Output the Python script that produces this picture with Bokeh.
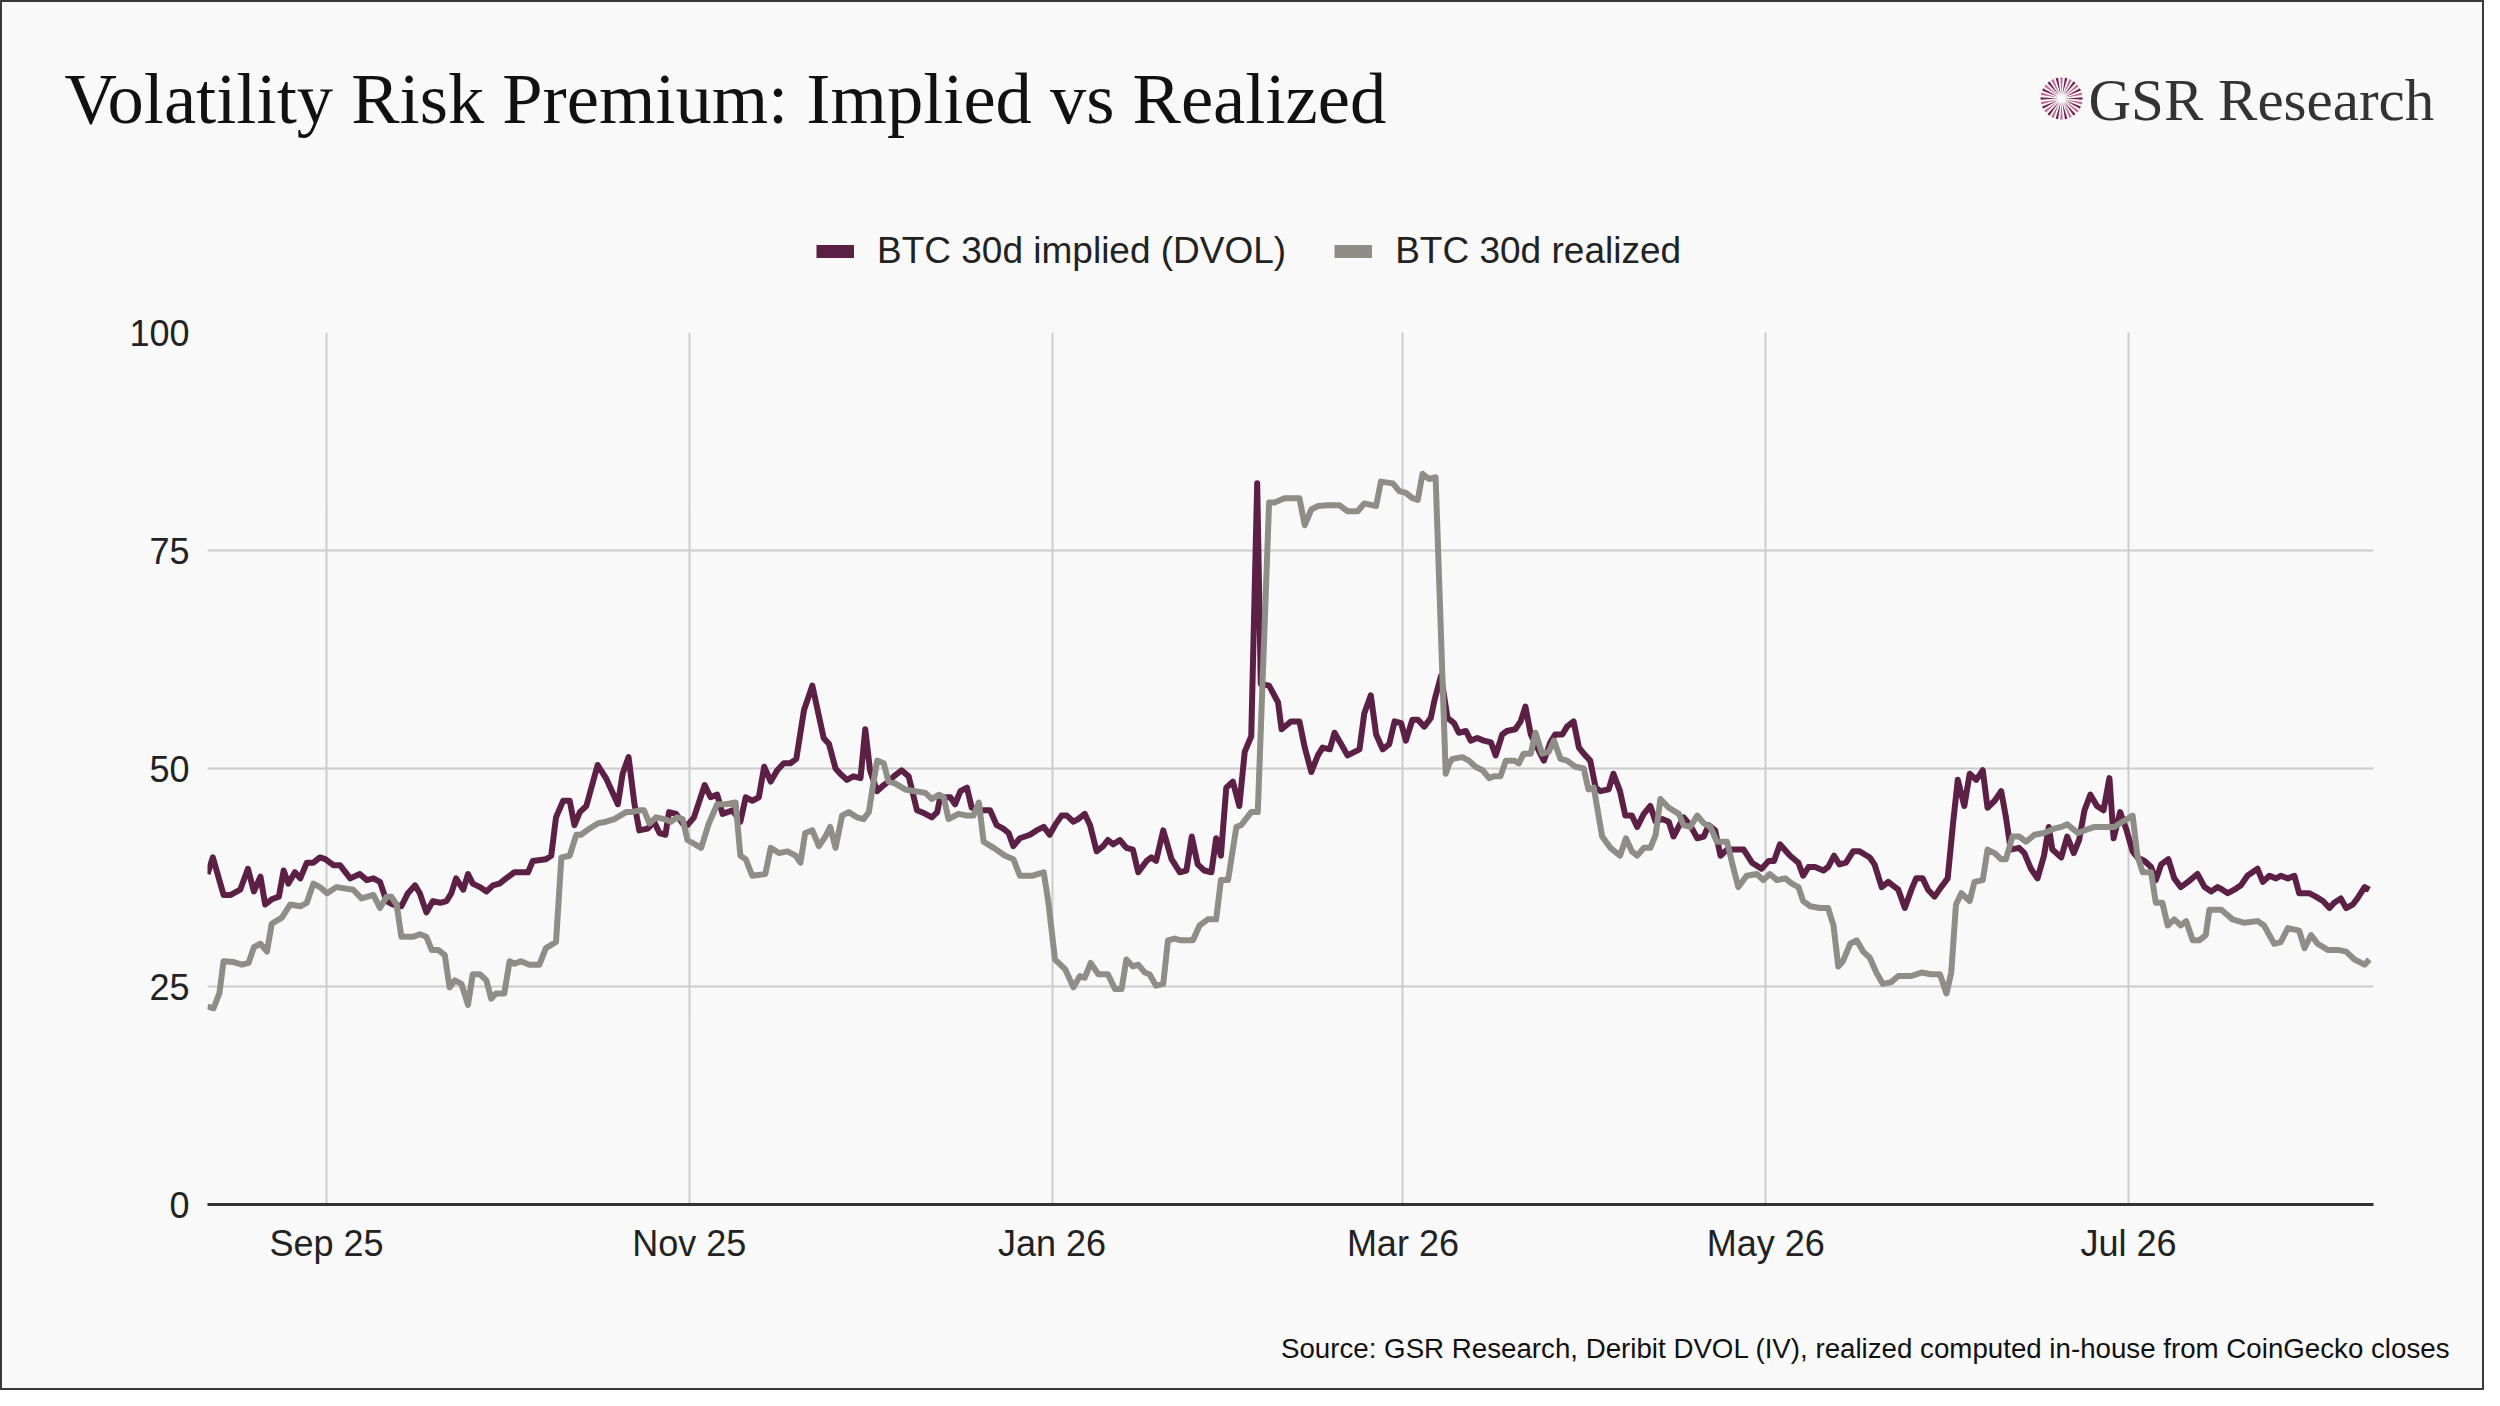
from datetime import datetime, timedelta
import numpy as np
from bokeh.plotting import figure
from bokeh.layouts import column
from bokeh.models import (ColumnDataSource, Range1d, Legend, LegendItem, MonthsTicker,
                          DatetimeTickFormatter, FixedTicker)
from bokeh.core.properties import value
from bokeh.embed import file_html
from bokeh.resources import INLINE

start = datetime(2025, 8, 12)

impl_days = [
    0.0, 0.9, 2.7, 3.9, 5.5, 6.8, 7.8, 8.9, 9.7, 10.8, 12.0, 12.8, 13.6, 14.7, 15.6, 16.7, 17.8, 18.9, 19.8, 21.2,
    22.3, 24.0, 25.6, 26.8, 27.9, 29.0, 30.1, 31.2, 32.6, 33.7, 34.9, 35.7, 36.8, 37.9, 39.1, 40.2, 41.0, 41.8, 43.0, 43.8,
    44.6, 45.8, 46.9, 48.0, 49.1, 50.2, 51.6, 53.9, 54.7, 56.9, 57.8, 58.6, 59.8, 60.9, 61.7, 62.6, 63.7, 65.6, 67.0, 69.0,
    69.8, 70.8, 71.8, 72.6, 74.0, 75.1, 76.0, 77.0, 77.6, 78.8, 79.9, 80.7, 81.8, 83.6, 84.6, 85.7, 86.6, 88.3, 89.6, 90.5,
    91.6, 92.7, 93.6, 94.7, 95.8, 96.9, 98.0, 99.0, 100.3, 101.7, 103.6, 104.5, 105.6, 106.4, 107.5, 108.6, 109.8, 110.6, 111.4, 112.6,
    113.7, 114.5, 115.4, 116.7, 117.9, 119.3, 120.7, 121.8, 122.7, 123.2, 124.9, 125.7, 126.6, 127.7, 128.5, 129.9, 131.6, 132.7, 133.8, 134.7,
    135.5, 136.6, 138.3, 139.4, 140.6, 141.6, 142.5, 143.6, 144.5, 145.6, 146.4, 147.5, 148.4, 149.5, 150.6, 151.4, 152.3, 153.4, 154.5, 155.6,
    156.5, 157.9, 158.7, 159.5, 160.7, 162.1, 163.5, 164.6, 165.5, 166.5, 167.6, 168.8, 169.6, 170.4, 171.3, 172.4, 173.5, 174.4, 175.5, 176.5,
    177.1, 178.5, 180.0, 180.6, 182.2, 183.6, 184.5, 185.6, 186.7, 187.5, 188.7, 189.5, 190.6, 191.7, 193.7, 194.5, 195.6, 196.5, 197.6, 198.7,
    199.6, 200.7, 201.5, 202.6, 203.5, 204.6, 205.7, 206.3, 207.4, 208.5, 209.6, 210.4, 211.6, 212.4, 213.5, 214.6, 215.8, 216.6, 217.7, 218.5,
    219.9, 220.8, 221.6, 222.5, 223.6, 224.7, 225.8, 226.6, 227.8, 228.6, 229.7, 230.6, 231.4, 232.5, 233.4, 234.2, 235.6, 236.4, 237.5, 238.4,
    239.5, 240.4, 241.5, 242.6, 243.5, 244.6, 245.7, 246.5, 248.2, 249.3, 250.5, 251.6, 252.4, 253.5, 254.4, 255.5, 256.9, 258.3, 259.7, 261.3,
    262.5, 263.4, 264.4, 266.1, 267.5, 268.3, 269.2, 270.3, 271.7, 272.5, 273.5, 274.4, 275.5, 276.7, 277.8, 279.5, 280.3, 281.5, 282.6, 284.3,
    285.4, 286.5, 287.3, 288.4, 289.3, 290.4, 291.5, 292.6, 293.5, 294.3, 295.4, 296.3, 297.4, 298.5, 299.3, 300.5, 301.6, 302.4, 303.2, 304.6,
    305.5, 306.6, 307.7, 308.8, 309.6, 310.2, 311.7, 312.7, 313.8, 314.7, 315.6, 316.6, 317.7, 318.8, 319.8, 320.5, 321.6, 322.6, 323.7, 324.5,
    325.7, 326.8, 327.6, 328.5, 329.7, 330.7, 331.8, 333.0, 334.6, 335.8, 336.9, 338.0, 338.8, 339.7, 340.8, 341.9, 343.0, 344.7, 345.6, 346.7,
    347.8, 348.6, 349.8, 350.9, 351.7, 353.4, 354.5, 355.7, 356.8, 357.6, 358.7, 359.6, 360.7, 361.5, 362.7, 363.5,
]
impl_vals = [
    37.9, 39.8, 35.5, 35.5, 36.1, 38.5, 35.9, 37.6, 34.4, 35.0, 35.3, 38.3, 36.8, 38.1, 37.4, 39.2, 39.2, 39.8, 39.6, 38.9,
    38.9, 37.4, 37.9, 37.2, 37.4, 37.0, 34.8, 34.4, 34.2, 35.7, 36.6, 35.7, 33.5, 34.8, 34.6, 34.8, 35.7, 37.4, 36.1, 37.9,
    36.8, 36.4, 35.9, 36.6, 36.8, 37.4, 38.1, 38.1, 39.4, 39.6, 40.0, 44.4, 46.3, 46.3, 43.5, 45.0, 45.7, 50.4, 48.9, 45.9,
    49.4, 51.3, 45.9, 42.9, 43.1, 43.9, 42.6, 42.4, 45.0, 44.8, 43.7, 43.5, 44.4, 48.1, 46.7, 47.0, 44.8, 45.2, 43.9, 46.7,
    46.3, 46.7, 50.2, 48.5, 49.8, 50.6, 50.6, 51.1, 56.7, 59.5, 53.5, 52.8, 50.0, 49.4, 48.7, 49.1, 48.9, 54.5, 49.8, 47.4,
    48.1, 48.5, 49.1, 49.8, 49.1, 45.2, 44.8, 44.4, 45.0, 46.7, 46.7, 45.9, 47.4, 47.8, 45.5, 45.2, 45.2, 43.5, 43.1, 42.6,
    41.1, 42.0, 42.4, 42.9, 43.3, 42.4, 43.5, 44.6, 44.6, 43.9, 44.2, 44.8, 43.5, 40.5, 41.1, 41.8, 41.3, 41.8, 40.9, 40.7,
    38.1, 39.4, 39.8, 39.4, 42.9, 39.6, 38.1, 38.3, 42.2, 39.0, 38.3, 38.1, 42.0, 40.0, 47.8, 48.5, 45.7, 51.9, 53.7, 82.7,
    59.7, 59.5, 57.6, 54.5, 55.4, 55.4, 52.4, 49.6, 51.5, 52.4, 52.2, 54.1, 52.8, 51.5, 52.2, 56.3, 58.4, 53.9, 52.2, 52.8,
    55.4, 55.2, 53.2, 55.6, 55.6, 54.8, 55.8, 57.8, 60.6, 55.8, 55.2, 54.1, 54.3, 53.2, 53.5, 53.2, 53.0, 51.5, 53.9, 54.3,
    54.5, 55.4, 57.1, 53.9, 52.4, 50.9, 53.0, 53.9, 53.9, 54.8, 55.4, 52.4, 51.7, 50.9, 47.8, 47.4, 47.6, 49.4, 47.4, 44.6,
    44.6, 43.3, 44.8, 45.7, 43.9, 44.2, 43.9, 42.2, 44.4, 43.5, 42.0, 42.2, 43.5, 42.9, 40.0, 40.7, 40.7, 40.7, 39.2, 38.5,
    39.4, 39.4, 41.3, 40.0, 39.2, 37.7, 38.7, 38.7, 38.3, 38.7, 40.0, 39.0, 39.2, 40.5, 40.5, 39.8, 39.0, 36.4, 37.0, 36.1,
    34.0, 36.1, 37.4, 37.4, 36.1, 35.3, 36.4, 37.4, 43.7, 48.7, 45.7, 49.4, 48.7, 49.8, 45.5, 46.3, 47.4, 44.4, 40.7, 40.9,
    40.3, 38.5, 37.4, 40.0, 43.3, 40.7, 39.8, 42.2, 40.3, 41.8, 45.2, 47.0, 45.7, 45.2, 48.9, 42.0, 45.0, 43.1, 40.5, 39.8,
    39.4, 38.7, 37.2, 39.0, 39.6, 37.4, 36.4, 37.0, 37.9, 36.4, 35.9, 36.4, 36.1, 35.7, 36.1, 36.6, 37.7, 38.5, 37.0, 37.7,
    37.4, 37.7, 37.4, 37.7, 35.7, 35.7, 35.3, 34.8, 34.0, 34.6, 35.1, 34.0, 34.4, 35.1, 36.4, 36.1,
]

real_days = [
    0.0, 1.0, 2.0, 2.7, 4.4, 5.8, 6.9, 7.8, 8.9, 10.0, 10.8, 12.5, 13.9, 15.6, 16.7, 17.8, 18.9, 20.1, 21.7, 24.5,
    25.9, 27.9, 29.0, 30.1, 30.9, 31.8, 32.6, 34.6, 35.7, 36.8, 37.7, 38.8, 39.9, 40.7, 41.6, 42.7, 43.8, 44.6, 45.8, 46.9,
    47.7, 48.5, 49.9, 50.8, 51.6, 52.7, 54.1, 55.8, 56.9, 58.6, 59.5, 60.9, 62.0, 62.8, 64.2, 65.6, 67.0, 68.4, 70.4, 71.2,
    72.6, 73.4, 74.3, 75.4, 76.8, 77.9, 79.0, 79.9, 80.7, 83.0, 84.3, 85.7, 87.1, 88.8, 89.6, 90.5, 91.6, 93.8, 94.7, 96.1,
    97.5, 98.9, 99.7, 100.5, 101.7, 102.8, 103.9, 104.7, 105.6, 106.7, 107.8, 109.2, 110.3, 111.2, 112.0, 112.6, 113.7, 114.5, 115.6, 117.3,
    119.0, 120.7, 121.8, 123.0, 123.8, 124.6, 126.3, 127.7, 128.8, 129.7, 130.5, 132.2, 134.1, 135.5, 136.6, 138.6, 140.6, 141.4, 142.5, 144.2,
    145.6, 146.7, 147.5, 148.5, 149.8, 151.4, 152.6, 153.7, 154.5, 155.6, 156.5, 157.6, 158.4, 159.5, 160.7, 161.5, 162.6, 163.7, 165.7, 166.8,
    168.2, 169.6, 170.4, 171.6, 173.0, 173.8, 175.5, 176.6, 178.5, 179.4, 181.1, 183.6, 184.5, 185.6, 186.7, 188.4, 190.3, 191.7, 193.4, 194.5,
    196.5, 197.3, 199.3, 200.4, 201.5, 202.6, 203.5, 204.3, 205.4, 206.5, 208.2, 208.8, 209.3, 211.0, 212.1, 213.2, 214.4, 215.5, 216.3, 217.4,
    218.3, 219.7, 220.5, 221.3, 222.5, 223.3, 224.4, 225.5, 226.4, 227.5, 228.6, 230.0, 231.4, 232.2, 233.1, 234.5, 235.9, 237.5, 238.5, 239.5,
    240.4, 241.5, 242.6, 243.5, 244.3, 245.7, 247.4, 248.2, 249.3, 250.5, 251.6, 252.7, 253.8, 255.5, 256.6, 257.4, 258.8, 260.5, 261.6, 262.7,
    263.9, 265.3, 266.4, 267.5, 268.3, 269.5, 271.1, 272.5, 273.4, 274.2, 275.0, 276.2, 277.3, 278.4, 279.5, 280.6, 281.7, 283.1, 284.3, 286.5,
    288.2, 289.8, 291.3, 292.4, 293.2, 294.0, 294.9, 296.3, 297.1, 298.5, 299.3, 300.5, 301.6, 302.4, 303.5, 304.6, 305.8, 307.2, 308.8, 310.5,
    311.7, 312.7, 314.5, 315.6, 317.3, 318.9, 320.6, 322.0, 323.7, 324.5, 325.4, 326.8, 327.6, 328.7, 329.6, 330.7, 331.8, 332.7, 333.8, 334.9,
    336.0, 336.6, 338.6, 340.5, 342.5, 344.7, 345.8, 347.5, 348.6, 349.8, 351.7, 352.6, 353.7, 354.8, 356.5, 358.2, 359.6, 361.0, 362.7, 363.5,
]
real_vals = [
    22.7, 22.5, 24.2, 27.9, 27.8, 27.5, 27.7, 29.5, 29.9, 29.0, 32.2, 32.9, 34.4, 34.2, 34.6, 36.8, 36.4, 35.7, 36.4, 36.1,
    35.1, 35.5, 34.0, 35.3, 35.3, 34.4, 30.7, 30.7, 31.0, 30.7, 29.2, 29.2, 28.6, 24.9, 25.7, 25.3, 22.9, 26.4, 26.4, 25.7,
    23.6, 24.2, 24.2, 27.9, 27.6, 27.9, 27.5, 27.5, 29.4, 30.1, 39.8, 40.0, 42.4, 42.4, 43.1, 43.7, 43.9, 44.2, 45.0, 45.0,
    45.2, 45.2, 43.7, 44.4, 44.2, 43.9, 44.4, 44.2, 41.8, 40.9, 43.7, 45.9, 45.9, 46.1, 40.0, 39.6, 37.7, 37.9, 40.9, 40.3,
    40.5, 40.0, 39.2, 42.6, 42.9, 41.1, 42.2, 43.3, 40.9, 44.6, 45.0, 44.4, 44.2, 45.0, 48.5, 50.9, 50.6, 48.5, 48.3, 47.6,
    47.4, 47.2, 46.5, 47.0, 46.7, 44.2, 44.8, 44.6, 44.6, 46.1, 41.6, 40.9, 40.0, 39.6, 37.7, 37.7, 38.1, 34.6, 28.1, 27.0,
    24.9, 26.2, 26.0, 27.7, 26.4, 26.4, 24.7, 24.7, 28.1, 27.3, 27.5, 26.6, 26.4, 25.1, 25.3, 30.3, 30.5, 30.3, 30.3, 32.0,
    32.7, 32.7, 37.2, 37.2, 43.3, 43.5, 45.0, 45.0, 80.5, 80.5, 81.0, 81.0, 77.9, 79.7, 80.1, 80.2, 80.2, 79.5, 79.5, 80.4,
    80.1, 82.9, 82.7, 81.8, 81.6, 81.0, 80.8, 83.8, 83.2, 83.4, 49.4, 50.6, 51.1, 51.3, 50.9, 50.2, 49.8, 48.9, 49.1, 49.1,
    50.9, 50.9, 50.6, 51.7, 51.7, 54.1, 51.7, 51.9, 53.2, 51.1, 50.9, 50.2, 50.0, 47.6, 47.8, 42.2, 40.9, 40.0, 42.0, 40.5,
    40.0, 40.9, 40.9, 42.4, 46.5, 45.5, 44.8, 43.5, 43.3, 44.6, 43.7, 43.3, 41.6, 41.6, 38.5, 36.4, 37.7, 37.9, 37.2, 37.9,
    37.2, 37.4, 36.8, 36.4, 34.8, 34.2, 34.0, 34.0, 32.0, 27.3, 27.9, 29.9, 30.3, 29.0, 28.3, 26.6, 25.3, 25.5, 26.2, 26.2,
    26.6, 26.4, 26.4, 24.2, 26.6, 34.4, 35.7, 34.8, 37.0, 37.2, 40.7, 40.3, 39.6, 39.6, 42.2, 42.2, 41.6, 42.4, 42.6, 43.1,
    43.3, 43.6, 42.6, 42.9, 43.3, 43.3, 43.3, 43.9, 44.6, 40.0, 38.1, 38.1, 34.6, 34.6, 32.0, 32.7, 32.0, 32.5, 30.3, 30.3,
    30.9, 33.8, 33.8, 32.7, 32.3, 32.5, 32.0, 29.9, 30.1, 31.7, 31.4, 29.4, 30.9, 29.9, 29.2, 29.2, 29.0, 28.1, 27.5, 28.1,
]

y_ticks = [0, 25, 50, 75, 100]
tick_months = [0, 2, 4, 6, 8, 10]  # Bokeh months are 0-based: Jan, Mar, May, Jul, Sep, Nov

title_text = "Volatility Risk Premium: Implied vs Realized"
brand_text = "GSR Research"
source_text = "Source: GSR Research, Deribit DVOL (IV), realized computed in-house from CoinGecko closes"
impl_label = "BTC 30d implied (DVOL)"
real_label = "BTC 30d realized"

# --- styling ---
BG = "#f9f9f9"
IMPL = "#5c2047"
REAL = "#8e8d86"
INK = "#222222"
W = 2480
HEAD_H, MAIN_H, FOOT_H = 300, 982, 104


def blank(height):
    f = figure(width=W, height=height, x_range=Range1d(0, W), y_range=Range1d(height, 0),
               output_backend="svg", toolbar_location=None, min_border=0,
               x_axis_location=None, y_axis_location=None, title_location=None)
    f.frame_align = False
    f.grid.visible = False
    f.outline_line_color = None
    f.background_fill_color = BG
    f.border_fill_color = BG
    return f


# header: title, brand mark and legend
head = blank(HEAD_H)
head.text(x=[62], y=[96], text=[title_text], text_font=value("Liberation Serif"),
          text_font_size="72.5px", text_color="#111111", text_baseline="alphabetic")
head.text(x=[2086], y=[97], text=[brand_text], text_font=value("Liberation Serif"),
          text_font_size="59px", text_color="#333333", text_baseline="alphabetic")

cx, cy, r0, r1 = 2059, 96, 4, 21
ang = np.linspace(0, 2 * np.pi, 28, endpoint=False)
da = 0.06
ray_xs = [[cx + r0 * np.cos(a), cx + r1 * np.cos(a - da), cx + r1 * np.cos(a + da)] for a in ang]
ray_ys = [[cy + r0 * np.sin(a), cy + r1 * np.sin(a - da), cy + r1 * np.sin(a + da)] for a in ang]
ray_cols = ["#6e2453" if i % 2 == 0 else "#c56a98" for i in range(len(ang))]
head.patches(xs=ray_xs, ys=ray_ys, fill_color=ray_cols, line_color=None)

sw_impl = head.line(x=[0], y=[np.nan], line_color=IMPL, line_width=13)
sw_real = head.line(x=[0], y=[np.nan], line_color=REAL, line_width=13)
legend = Legend(items=[LegendItem(label=impl_label, renderers=[sw_impl]),
                       LegendItem(label=real_label, renderers=[sw_real])],
                orientation="horizontal", location=(814, 30),
                glyph_width=38, glyph_height=20, label_standoff=23, spacing=48,
                label_text_font="Liberation Sans", label_text_font_size="37px",
                label_text_color=INK, background_fill_alpha=0, border_line_color=None,
                padding=0, margin=0)
head.add_layout(legend, "center")

# main chart
impl_src = ColumnDataSource(data={
    "date": [start + timedelta(days=d) for d in impl_days],
    "vol": impl_vals,
})
real_src = ColumnDataSource(data={
    "date": [start + timedelta(days=d) for d in real_days],
    "vol": real_vals,
})

p = figure(width=W, height=MAIN_H, x_axis_type="datetime", title_location=None,
           x_range=Range1d(start, start + timedelta(days=364.2)), y_range=Range1d(0, 100),
           output_backend="svg", toolbar_location=None,
           min_border_left=205, min_border_right=109, min_border_top=30, min_border_bottom=80)
p.frame_align = False
p.background_fill_color = BG
p.border_fill_color = BG
p.outline_line_color = None

p.line(x="date", y="vol", source=impl_src, line_color=IMPL, line_width=6, line_join="round")
p.line(x="date", y="vol", source=real_src, line_color=REAL, line_width=6, line_join="round")

p.xaxis.ticker = MonthsTicker(months=tick_months)
p.xaxis.formatter = DatetimeTickFormatter(months="%b %y", days="%b %y", years="%b %y")
p.yaxis.ticker = FixedTicker(ticks=y_ticks)
for ax in (p.xaxis, p.yaxis):
    ax.major_tick_line_color = None
    ax.minor_tick_line_color = None
    ax.major_label_text_font = "Liberation Sans"
    ax.major_label_text_font_size = "36px"
    ax.major_label_text_color = INK
p.xaxis.axis_line_color = "#333333"
p.xaxis.axis_line_width = 3
p.xaxis.major_label_standoff = 12
p.yaxis.axis_line_color = None
p.yaxis.major_label_standoff = 12
p.grid.grid_line_color = "#cccccc"
p.grid.grid_line_width = 2

# footer: source note
foot = blank(FOOT_H)
foot.text(x=[2448], y=[64], text=[source_text], text_font=value("Liberation Sans"),
          text_font_size="27.7px", text_color="#111111", text_align="right",
          text_baseline="alphabetic")

page = column(head, p, foot, spacing=0, styles={"border": "2px solid #3a3a3a", "background-color": BG})
open("out.html", "w").write(file_html(page, INLINE))
